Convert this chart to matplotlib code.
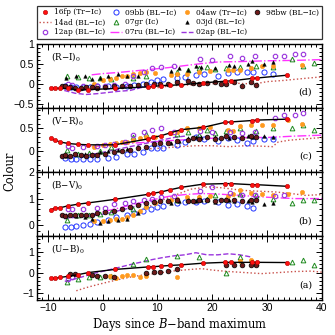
import numpy as np
import matplotlib
matplotlib.use("Agg")
import matplotlib.pyplot as plt
from matplotlib import ticker
from matplotlib.lines import Line2D

nan = np.nan

# ---- colour evolution (days since B max) ----
# panels: (R-I)0, (V-R)0, (B-V)0, (U-B)0
fp16_days = [-9.5, -8.7, -7.7, -6.3, -4.5, -2.6, 2.2, 8.3, 9.2, 10.7, 12.3, 14.3, 18.3, 22.3, 23.5, 27.2, 28.1, 33.6]
fp16_ri = [-0.11, -0.11, -0.12, -0.12, -0.16, -0.15, -0.12, -0.08, -0.07, -0.05, -0.04, -0.03, 0.02, 0.06, 0.07, 0.13, 0.14, 0.21]
fp16_vr = [0.28, 0.24, 0.20, 0.17, 0.15, 0.14, 0.14, 0.27, 0.30, 0.34, 0.40, 0.47, 0.52, 0.63, 0.64, 0.67, 0.68, 0.70]
fp16_bv = [0.59, 0.63, 0.66, 0.73, 0.79, 0.84, 0.97, 1.16, 1.20, 1.25, 1.33, 1.42, 1.54, 1.56, 1.56, 1.52, 1.52, 1.46]
fp16_ub = [-0.27, -0.27, -0.23, -0.18, -0.10, 0.0, 0.15, 0.27, 0.28, 0.31, 0.34, 0.37, 0.45, 0.49, 0.49, 0.49, 0.49, 0.48]

bb09_days = [-6.9, -5.8, -4.8, -3.5, -2.3, -1.0, 1.0, 2.5, 4.4, 5.8, 7.4, 8.9, 10.0, 11.0, 13.5, 15.0, 17.1, 18.5, 21.0, 22.9, 24.5, 26.3, 27.5, 29.5, 31.1]
bb09_ri = [-0.05, -0.08, -0.08, -0.09, -0.08, -0.07, -0.07, -0.08, -0.05, -0.03, -0.01, 0.03, 0.10, 0.12, 0.14, 0.16, 0.22, 0.24, 0.20, 0.27, 0.30, 0.28, 0.28, 0.28, 0.24]
bb09_vr = [-0.15, -0.17, -0.18, -0.17, -0.18, -0.16, -0.14, -0.12, -0.07, -0.05, -0.01, 0.06, 0.07, 0.08, 0.14, 0.20, 0.32, 0.26, 0.22, 0.29, 0.24, 0.18, 0.22, 0.26, 0.27]
bb09_bv = [-0.08, -0.05, -0.03, 0.0, 0.05, 0.12, 0.20, 0.30, 0.40, 0.47, 0.55, 0.60, 0.68, 0.72, 0.85, 0.88, 0.88, 0.90, 0.88, 0.75, 0.80, 0.72, 0.66, nan, nan]
bb09_ub = [nan] * 25

aw04_days = [-1.5, 0.0, 1.3, 2.5, 3.5, 4.5, 5.5, 6.8, 8.0, 9.5, 12.5, 13.5, 15.3, 17.5, 19.5, 22.9, 23.8, 25.0, 27.0, 29.0, 31.0, 33.9, 36.3]
aw04_ri = [0.0, 0.08, 0.12, 0.14, 0.18, 0.20, 0.24, 0.26, 0.28, 0.26, 0.22, 0.23, 0.24, 0.30, 0.32, 0.33, 0.35, 0.33, 0.40, 0.45, 0.44, nan, 0.47]
aw04_vr = [0.10, 0.13, 0.16, 0.19, 0.21, 0.21, 0.25, 0.29, 0.30, 0.32, 0.40, 0.43, 0.51, 0.50, 0.52, 0.47, 0.45, 0.54, 0.57, 0.57, 0.58, 0.69, 0.60]
aw04_bv = [0.15, 0.18, 0.20, 0.22, 0.25, 0.30, 0.40, 0.55, 0.70, 0.85, 0.95, 1.00, 1.06, 1.05, 1.10, 1.08, 1.19, 1.31, 1.20, 1.18, 1.15, 1.18, 1.25]
aw04_ub = [nan, nan, -0.16, -0.27, -0.15, -0.11, -0.12, -0.19, -0.17, nan, nan, -0.22, nan, nan, nan, nan, nan, 0.55, 0.60, nan, nan, nan, nan]

bw98_days = [-7.5, -6.8, -6.0, -5.0, -3.9, -3.0, -2.0, -1.0, 0.5, 2.0, 3.5, 5.0, 6.5, 8.0, 9.3, 10.5, 12.0, 13.5, 15.5, 16.5, 17.5, 19.0, 20.5, 21.5, 22.5, 24.0, 25.5, 27.0, 28.0]
bw98_ri = [-0.05, -0.06, -0.08, -0.10, -0.10, -0.09, -0.08, -0.10, -0.08, -0.07, -0.05, -0.06, -0.04, -0.02, 0.0, -0.02, 0.0, 0.03, 0.06, 0.02, 0.0, 0.02, 0.05, -0.02, 0.0, 0.03, -0.05, 0.05, -0.03]
bw98_vr = [-0.10, -0.08, -0.10, -0.07, -0.09, -0.10, -0.08, -0.08, -0.06, -0.02, 0.0, 0.03, 0.08, 0.10, 0.15, 0.17, 0.18, 0.22, 0.25, 0.29, 0.27, 0.30, 0.26, 0.28, 0.33, 0.30, 0.28, 0.33, 0.31]
bw98_bv = [0.40, 0.35, 0.37, 0.38, 0.37, 0.38, 0.40, 0.45, 0.50, 0.55, 0.60, 0.68, 0.75, 0.82, 0.87, 0.90, 0.92, 0.95, 0.92, 0.90, 0.95, 0.93, 0.90, 0.95, 0.93, 0.94, 0.92, 0.95, 0.93]
bw98_ub = [nan, nan, -0.09, -0.05, nan, nan, -0.12, -0.15, -0.18, -0.23, nan, nan, nan, 0.0, 0.01, 0.05, 0.09, 0.15, nan, nan, nan, nan, nan, nan, 0.34, 0.34, 0.34, 0.37, 0.37]

gr07_days = [-6.5, -4.5, -2.5, -0.5, 1.5, 5.5, 8.0, 13.5, 15.5, 17.5, 19.0, 20.5, 22.5, 25.0, 28.0, 31.0, 34.5, 36.5, 38.5]
gr07_ri = [0.20, 0.16, 0.14, 0.15, 0.12, 0.15, 0.18, 0.28, 0.35, 0.40, 0.42, 0.36, 0.38, 0.42, 0.45, 0.42, 0.62, 0.45, 0.52]
gr07_vr = [0.03, -0.05, -0.04, 0.0, 0.10, 0.30, 0.37, 0.38, 0.42, 0.35, 0.46, 0.40, 0.45, 0.50, 0.45, 0.50, 0.50, 0.58, 0.47]
gr07_bv = [0.20, 0.38, 0.40, 0.42, 0.50, 0.62, 0.75, 0.95, 1.00, 1.05, 1.00, 1.12, 1.00, 1.18, 1.15, 1.00, 0.85, 0.94, 0.95]
gr07_ub = [-0.47, -0.33, -0.20, -0.19, -0.18, 0.40, 0.67, 0.81, nan, 0.76, nan, nan, 0.0, 0.75, 0.45, nan, 0.50, 0.60, 0.37]

jd03_days = [-6.6, -4.8, -3.2, -2.0, -0.5, 1.0, 2.8, 4.5, 6.5, 12.5, 14.0, 15.5, 17.1, 18.0, 20.5, 23.0, 24.0, 26.5, 27.2, 29.5, 31.0]
jd03_ri = [0.15, 0.20, 0.20, 0.12, 0.15, 0.18, 0.24, 0.20, 0.18, 0.32, 0.38, 0.35, 0.45, 0.42, 0.38, 0.47, 0.44, 0.50, 0.56, 0.48, 0.55]
jd03_vr = [-0.10, -0.06, -0.07, -0.05, -0.02, 0.0, 0.03, 0.05, 0.10, 0.18, 0.23, 0.28, 0.30, 0.30, 0.32, 0.28, 0.32, 0.33, 0.30, 0.33, 0.32]
jd03_bv = [0.38, 0.35, 0.30, 0.25, 0.10, 0.15, 0.20, 0.25, 0.45, 0.85, 0.90, 0.93, 0.90, 0.95, 0.88, 0.95, 0.90, 0.92, 0.88, 0.80, 0.82]
jd03_ub = [nan] * 21

ap12_days = [-6.3, -5.5, -3.5, -1.0, 0.5, 2.0, 4.0, 5.6, 7.5, 9.0, 10.7, 13.0, 17.7, 20.0, 23.2, 25.5, 27.8, 31.4, 33.0, 35.1, 36.6]
ap12_ri = [0.0, -0.04, -0.06, -0.05, -0.06, -0.04, 0.0, 0.20, 0.30, 0.38, 0.41, 0.45, 0.62, 0.60, 0.68, 0.65, 0.70, 0.70, 0.68, 0.73, 0.75]
ap12_vr = [0.12, 0.08, 0.10, 0.12, 0.14, 0.16, 0.20, 0.36, 0.43, 0.47, 0.50, 0.42, 0.45, 0.42, 0.43, 0.40, 0.42, 0.73, 0.78, 0.78, 0.84]
ap12_bv = [0.60, 0.60, 0.62, 0.63, 0.65, 0.80, 0.85, 0.90, 0.95, 1.00, 1.05, 1.10, 1.30, 1.44, 1.20, 1.15, 1.15, 1.10, 1.12, nan, nan]
ap12_ub = [-0.30, -0.20] + [nan] * 19

# comparison curves (template lines)
ad14_ri_days = [8, 10, 12, 14, 17, 20, 23, 26, 28, 30, 33, 36, 40]
ad14_ri = [-0.08, -0.10, -0.06, -0.04, -0.03, 0.0, 0.02, 0.0, 0.0, 0.05, 0.08, 0.12, 0.17]
ad14_vr_days = [8, 11, 14, 17, 20, 23, 26, 29, 31, 32, 34, 37, 40]
ad14_vr = [0.05, 0.07, 0.10, 0.12, 0.12, 0.10, 0.12, 0.11, 0.10, 0.20, 0.24, 0.27, 0.30]
ad14_bv_days = [5, 7, 9, 11, 13.5, 16, 19.3, 22, 25.3, 28, 31.4, 34, 37, 40]
ad14_bv = [0.37, 0.55, 0.75, 0.95, 1.15, 1.35, 1.44, 1.40, 1.31, 1.28, 1.25, 1.20, 1.12, 1.15]
ad14_ub_days = [-4.8, -3, -1, 1, 3, 5, 7, 10, 13, 16, 18, 20, 23, 26, 29, 32, 35, 38, 40]
ad14_ub = [-0.87, -0.72, -0.58, -0.45, -0.33, -0.22, -0.13, -0.03, 0.08, 0.15, 0.19, 0.12, 0.05, 0.0, -0.05, 0.0, 0.05, 0.07, 0.02]

ru07_days = [-2, 0, 3, 6, 9, 12, 15, 18, 21, 25, 30, 35, 40]
ru07_ri = [0.22, 0.25, 0.28, 0.32, 0.36, 0.40, 0.45, 0.50, 0.54, 0.55, 0.57, 0.58, 0.60]
ru07_vr = [0.10, 0.12, 0.15, 0.18, 0.20, 0.23, 0.25, 0.27, 0.29, 0.30, 0.30, 0.33, 0.35]
ru07_bv = [0.40, 0.50, 0.65, 0.80, 0.95, 1.08, 1.15, 1.19, 1.17, 1.12, 1.05, 1.00, 1.00]

ap02_ri_days = [-7, -5, -3, -1, 1, 3, 5, 7, 9]
ap02_ri = [-0.17, -0.24, -0.27, -0.25, -0.22, -0.19, -0.17, -0.10, -0.04]
ap02_vr_days = [-7, -5, -3, -1, 1, 3, 5, 7, 9, 11, 13, 15]
ap02_vr = [-0.10, -0.10, -0.08, -0.05, 0.0, 0.05, 0.10, 0.15, 0.20, 0.25, 0.30, 0.33]
ap02_bv_days = [-7, -5, -3, -1, 1, 3, 5, 7, 9]
ap02_bv = [0.25, 0.30, 0.33, 0.38, 0.45, 0.55, 0.65, 0.78, 0.90]
ap02_ub_days = [-6.9, -5, -3, -1, 1, 3, 5, 7, 9, 11, 13, 15, 17, 19, 21, 23, 25, 27]
ap02_ub = [-0.42, -0.30, -0.15, 0.0, 0.12, 0.25, 0.38, 0.50, 0.62, 0.72, 0.80, 0.85, 0.95, 0.85, 0.85, 0.90, 0.85, 0.75]

panel_names = ["(R\u2212I)$_0$", "(V\u2212R)$_0$", "(B\u2212V)$_0$", "(U\u2212B)$_0$"]
panel_tags = ["(d)", "(c)", "(b)", "(a)"]
panel_ylims = [(-0.6, 1.0), (-0.45, 0.95), (-0.4, 2.0), (-1.32, 1.75)]
panel_major = [0.5, 0.5, 1.0, 1.0]
panel_minor = [0.1, 0.1, 0.2, 0.2]

# ---- styles ----
sty_16fp = dict(marker="o", ms=3.1, mfc="#ff1010", mec="#b00000", mew=0.4, ls="none")
sty_09bb = dict(marker="o", ms=3.7, mfc="none", mec="#2233ff", mew=0.7, ls="none")
sty_04aw = dict(marker="o", ms=3.1, mfc="#ff9a1f", mec="#ff9a1f", mew=0.4, ls="none")
sty_98bw = dict(marker="o", ms=3.4, mfc="#6e1a1a", mec="black", mew=0.5, ls="none")
sty_07gr = dict(marker="^", ms=3.4, mfc="none", mec="#1f8a1f", mew=0.7, ls="none")
sty_03jd = dict(marker="^", ms=2.6, mfc="black", mec="black", mew=0.3, ls="none")
sty_12ap = dict(marker="8", ms=3.4, mfc="none", mec="#9933dd", mew=0.8, ls="none")
sty_14ad = dict(color="#c8504a", ls=":", lw=1.0)
sty_07ru = dict(color="#ff33ff", ls="-.", lw=1.0)
sty_02ap = dict(color="#9a35dd", ls="--", lw=1.0)

plt.rcParams["font.family"] = "Liberation Sans"
plt.rcParams["mathtext.fontset"] = "dejavuserif"
SERIF = "DejaVu Serif"

fig, axes = plt.subplots(4, 1, sharex=True, figsize=(3.35, 3.35), dpi=100,
                         gridspec_kw=dict(hspace=0))
fig.subplots_adjust(left=0.110, right=0.961, bottom=0.104, top=0.870)

fp16 = [fp16_ri, fp16_vr, fp16_bv, fp16_ub]
bb09 = [bb09_ri, bb09_vr, bb09_bv, bb09_ub]
aw04 = [aw04_ri, aw04_vr, aw04_bv, aw04_ub]
bw98 = [bw98_ri, bw98_vr, bw98_bv, bw98_ub]
gr07 = [gr07_ri, gr07_vr, gr07_bv, gr07_ub]
jd03 = [jd03_ri, jd03_vr, jd03_bv, jd03_ub]
ap12 = [ap12_ri, ap12_vr, ap12_bv, ap12_ub]
ad14 = [(ad14_ri_days, ad14_ri), (ad14_vr_days, ad14_vr), (ad14_bv_days, ad14_bv), (ad14_ub_days, ad14_ub)]
ru07 = [(ru07_days, ru07_ri), (ru07_days, ru07_vr), (ru07_days, ru07_bv), None]
ap02 = [(ap02_ri_days, ap02_ri), (ap02_vr_days, ap02_vr), (ap02_bv_days, ap02_bv), (ap02_ub_days, ap02_ub)]

fmt = ticker.FuncFormatter(lambda v, p: f"{v:g}".replace("-", "\u2212"))

for i, ax in enumerate(axes):
    ax.plot(*ad14[i], **sty_14ad, zorder=2)
    if ru07[i] is not None:
        ax.plot(*ru07[i], **sty_07ru, zorder=2)
    ax.plot(*ap02[i], **sty_02ap, zorder=2)

    ax.plot(bb09_days, bb09[i], **sty_09bb, zorder=3)
    ax.plot(gr07_days, gr07[i], **sty_07gr, zorder=3)
    ax.plot(aw04_days, aw04[i], **sty_04aw, zorder=3)
    ax.plot(ap12_days, ap12[i], **sty_12ap, zorder=3)
    ax.plot(jd03_days, jd03[i], **sty_03jd, zorder=4)
    ax.plot(bw98_days, bw98[i], **sty_98bw, zorder=4)
    ax.plot(fp16_days, fp16[i], color="black", lw=1.0, zorder=5)
    ax.plot(fp16_days, fp16[i], **sty_16fp, zorder=6)

    ax.set_xlim(-12, 40)
    ax.set_ylim(*panel_ylims[i])
    ax.xaxis.set_major_locator(ticker.MultipleLocator(10))
    ax.xaxis.set_minor_locator(ticker.MultipleLocator(1))
    ax.yaxis.set_major_locator(ticker.MultipleLocator(panel_major[i]))
    ax.yaxis.set_minor_locator(ticker.MultipleLocator(panel_minor[i]))
    ax.yaxis.set_major_formatter(fmt)
    ax.xaxis.set_major_formatter(fmt)
    ax.tick_params(which="both", direction="in", top=True, right=True, labelsize=7.5, width=0.7, pad=2)
    ax.tick_params(which="major", length=4.5)
    ax.tick_params(which="minor", length=2.3)
    for sp in ax.spines.values():
        sp.set_linewidth(1.0)
    ax.text(0.05, 0.80, panel_names[i], transform=ax.transAxes, family=SERIF, fontsize=6.3,
            ha="left", va="center")
    ax.text(0.965, 0.24, panel_tags[i], transform=ax.transAxes, family=SERIF, fontsize=6.8,
            ha="right", va="center")

axes[-1].set_xlabel("Days since $B$\u2212band maximum", family=SERIF, fontsize=8.3, labelpad=2)
fig.text(0.028, 0.49, "Colour", rotation=90, family=SERIF, fontsize=8.3, ha="center", va="center")

# legend, column-major with blanks so rows read like the original
h = lambda s, lab: Line2D([], [], label=lab, **s)
blank = Line2D([], [], ls="none", label=" ")
handles = [h(sty_16fp, "16fp (Tr\u2212Ic)"), h(sty_14ad, "14ad (BL\u2212Ic)"), h(sty_12ap, "12ap (BL\u2212Ic)"),
           h(sty_09bb, "09bb (BL\u2212Ic)"), h(sty_07gr, "07gr (Ic)"), h(sty_07ru, "07ru (BL\u2212Ic)"),
           h(sty_04aw, "04aw (Tr\u2212Ic)"), h(sty_03jd, "03jd (BL\u2212Ic)"), h(sty_02ap, "02ap (BL\u2212Ic)"),
           h(sty_98bw, "98bw (BL\u2212Ic)"), blank, Line2D([], [], ls="none", label="  ")]
leg = fig.legend(handles=handles, loc="lower left", bbox_to_anchor=(0.110, 0.884, 0.851, 0.104),
                 mode="expand", ncol=4, frameon=True, fancybox=False, edgecolor="black",
                 prop=dict(family=SERIF, size=5.4), handlelength=1.6, handletextpad=0.4,
                 columnspacing=0.4, borderaxespad=0, labelspacing=0.25, borderpad=0.35)
leg.get_frame().set_linewidth(0.9)

fig.savefig("out.png", dpi=100)
